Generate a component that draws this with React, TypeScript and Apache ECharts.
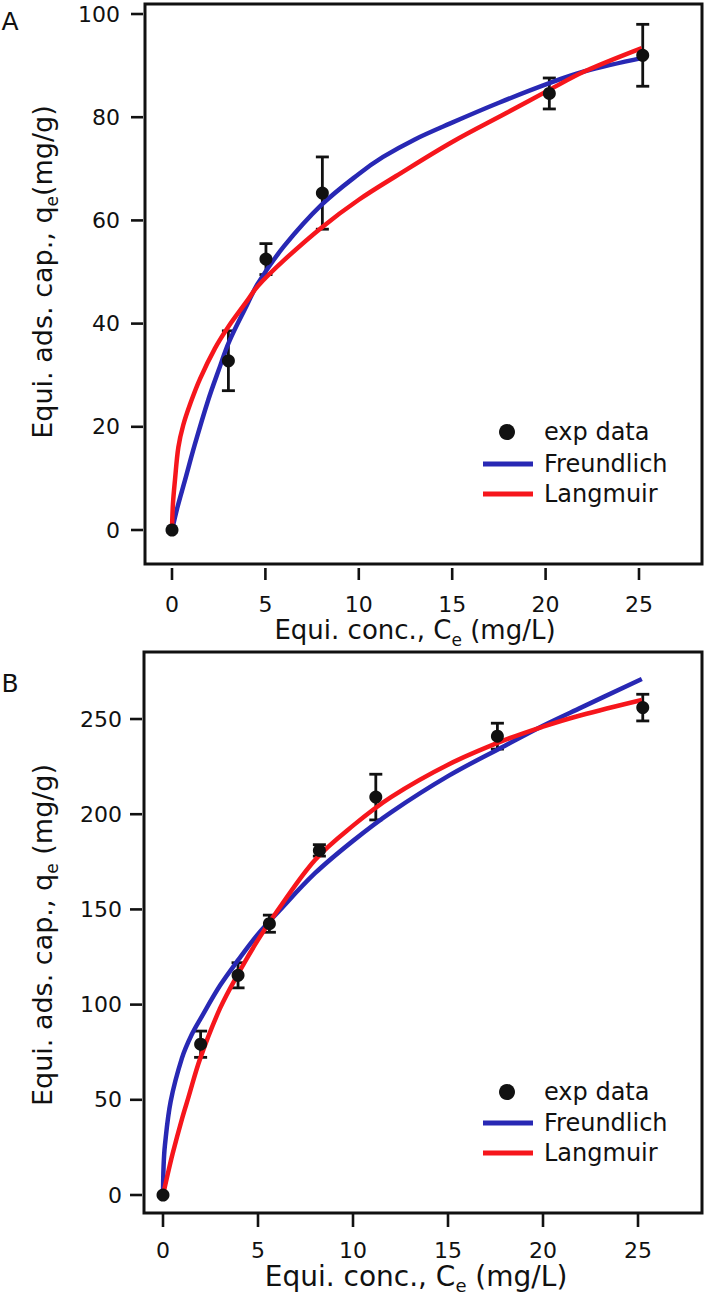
import React, { useEffect, useRef } from "react";
import * as echarts from "echarts";

// ---------- tick values ----------
const xTicksA = [0, 5, 10, 15, 20, 25];
const yTicksA = [0, 20, 40, 60, 80, 100];
const xTicksB = [0, 5, 10, 15, 20, 25];
const yTicksB = [0, 50, 100, 150, 200, 250];

// ---------- panel A data ----------
const expAx = [0, 3.02, 5.03, 8.05, 20.2, 25.2];
const expAy = [0, 32.8, 52.5, 65.3, 84.6, 92.0];
const expAerr = [0, 5.8, 3.0, 7.0, 3.0, 6.0];

const freundAx = [0, 0.3, 0.7, 1.2, 1.94, 2.5, 3.06, 4, 4.6, 6, 8, 10, 11.3, 13, 14.9, 17.5, 20.2, 22.1, 25.2];
const freundAy = [0, 4.5, 9.7, 16.3, 25.2, 31, 36.5, 43.5, 47.8, 55.0, 63.0, 69.0, 72.3, 75.7, 78.8, 82.8, 86.6, 88.9, 91.5];

const langAx = [0, 0.05, 0.16, 0.34, 0.6, 1, 1.5, 2.3, 3, 4, 4.6, 6, 8, 10, 12, 15, 18, 20.2, 22.1, 25.15];
const langAy = [0, 5, 9.7, 16, 20.3, 24.7, 29.3, 35.2, 39.3, 44.3, 47.3, 52.3, 58.6, 64, 68.6, 75.2, 81.0, 85.3, 88.9, 93.4];

// ---------- panel B data ----------
const expBx = [0, 1.98, 3.95, 5.6, 8.23, 11.2, 17.6, 25.25];
const expBy = [0, 79.2, 115.4, 142.5, 181, 209, 241, 256];
const expBerr = [0, 6.9, 6.6, 4.5, 3, 12, 6.8, 7];

const freundBx = [0, 0.03, 0.1, 0.4, 1, 1.5, 2, 3, 4, 5, 6, 8, 10, 12, 15, 18, 20, 22, 25.2];
const freundBy = [0, 15, 26, 49, 72, 84, 93, 110, 124, 137, 148, 169, 186, 201, 220, 236, 246.5, 256, 271];

const langBx = [0, 0.25, 0.5, 1, 1.33, 1.95, 3, 4, 5, 6, 8, 10, 12, 15, 18, 20, 22, 25.2];
const langBy = [0, 11, 21.5, 40, 51, 71.5, 98, 117, 134, 149, 176, 194, 209, 226, 239, 246, 252, 260];

const legendNames = ["exp data", "Freundlich", "Langmuir"];

const FONT = "DejaVu Sans";
const INK = "#111111";
const BLUE = "#2828b4";
const RED = "#f6161c";

const pairs = (xs: number[], ys: number[]) => xs.map((x, i) => [x, ys[i]]);
const triples = (xs: number[], ys: number[], es: number[]) => xs.map((x, i) => [x, ys[i], es[i]]);

const renderErr = (_params: any, api: any) => {
  const x = api.value(0);
  const y = api.value(1);
  const e = api.value(2);
  if (!e) return { type: "group", children: [] };
  const top = api.coord([x, y + e]);
  const bot = api.coord([x, y - e]);
  const w = 6.5;
  return {
    type: "group",
    children: [
      { type: "line", shape: { x1: top[0], y1: top[1], x2: bot[0], y2: bot[1] }, style: { stroke: INK, lineWidth: 2.8 } },
      { type: "line", shape: { x1: top[0] - w, y1: top[1], x2: top[0] + w, y2: top[1] }, style: { stroke: INK, lineWidth: 2.8 } },
      { type: "line", shape: { x1: bot[0] - w, y1: bot[1], x2: bot[0] + w, y2: bot[1] }, style: { stroke: INK, lineWidth: 2.8 } },
    ],
  };
};

// x axis: each label carries its outward tick mark above the number
const xAxisCfg = (grid: number, min: number, max: number, ticks: number[], offset: number, tickLen: number, numLine: number) => ({
  type: "value",
  gridIndex: grid,
  position: "bottom",
  min,
  max,
  offset,
  axisLine: { show: false, onZero: false },
  axisTick: { show: false },
  axisLabel: {
    show: true,
    customValues: ticks,
    margin: 0,
    formatter: (v: number) => `{t|}\n{v|${v}}`,
    rich: {
      t: { width: 2.6, height: tickLen, lineHeight: tickLen, backgroundColor: INK, verticalAlign: "middle" },
      v: { fontSize: 22, fontFamily: FONT, color: INK, lineHeight: numLine, verticalAlign: "middle" },
    },
  },
  splitLine: { show: false },
});

// y axis: each label carries its outward tick mark right of the number
const yAxisCfg = (grid: number, min: number, max: number, ticks: number[], offset: number, gap: number) => ({
  type: "value",
  gridIndex: grid,
  position: "left",
  min,
  max,
  offset,
  axisLine: { show: false, onZero: false },
  axisTick: { show: false },
  axisLabel: {
    show: true,
    customValues: ticks,
    margin: 0,
    formatter: (v: number) => `{v|${v}}{t|}`,
    rich: {
      v: { fontSize: 22, fontFamily: FONT, color: INK, padding: [0, gap, 0, 0], verticalAlign: "middle" },
      t: { width: 12, height: 2.6, backgroundColor: INK, verticalAlign: "middle" },
    },
  },
  splitLine: { show: false },
});

const richTitle = (size: number, sub: number) => ({
  a: { fontSize: size, fontFamily: FONT, fill: INK, lineHeight: 36 },
  s: { fontSize: sub, fontFamily: FONT, fill: INK, verticalAlign: "bottom" },
});

const legendGraphics = (cx: number, rowY: number[]) => [
  { type: "circle", shape: { cx: cx, cy: rowY[0], r: 8 }, style: { fill: INK } },
  { type: "line", shape: { x1: cx - 24, y1: rowY[1], x2: cx + 26, y2: rowY[1] }, style: { stroke: BLUE, lineWidth: 5 } },
  { type: "line", shape: { x1: cx - 24, y1: rowY[2], x2: cx + 26, y2: rowY[2] }, style: { stroke: RED, lineWidth: 5 } },
  ...legendNames.map((n, i) => ({
    type: "text",
    x: cx + 37,
    y: rowY[i],
    style: { text: n, fontSize: 24, fontFamily: FONT, fill: INK, align: "left", verticalAlign: "middle" },
  })),
];

const lineSeries = (name: string, xi: number, xs: number[], ys: number[], color: string) => ({
  type: "line",
  name,
  xAxisIndex: xi,
  yAxisIndex: xi,
  data: pairs(xs, ys),
  showSymbol: false,
  smooth: 0.35,
  lineStyle: { color, width: 4.5 },
  z: 3,
});

export default function App() {
  const ref = useRef<HTMLDivElement>(null);

  useEffect(() => {
    if (!ref.current) return;
    const chart = echarts.init(ref.current, null, { renderer: "svg" });

    const option: any = {
      animation: false,
      grid: [
        { left: 145, top: 4, width: 557, height: 560, show: true, borderColor: INK, borderWidth: 3, outerBoundsMode: "none" },
        { left: 144, top: 652, width: 558, height: 561, show: true, borderColor: INK, borderWidth: 3, outerBoundsMode: "none" },
      ],
      xAxis: [
        xAxisCfg(0, -1.445, 28.373, xTicksA, 4, 12, 48),
        xAxisCfg(1, -1.0, 28.368, xTicksB, 1, 13, 46),
      ],
      yAxis: [
        yAxisCfg(0, -6.589, 101.94, yTicksA, 2, 11),
        yAxisCfg(1, -9.45, 285.2, yTicksB, 2, 8),
      ],
      series: [
        { type: "custom", name: "errA", xAxisIndex: 0, yAxisIndex: 0, renderItem: renderErr, data: triples(expAx, expAy, expAerr), z: 2, silent: true },
        lineSeries("Freundlich", 0, freundAx, freundAy, BLUE),
        lineSeries("Langmuir", 0, langAx, langAy, RED),
        { type: "scatter", name: "exp data", xAxisIndex: 0, yAxisIndex: 0, data: pairs(expAx, expAy), symbol: "circle", symbolSize: 13, itemStyle: { color: INK, opacity: 1 }, z: 4 },

        { type: "custom", name: "errB", xAxisIndex: 1, yAxisIndex: 1, renderItem: renderErr, data: triples(expBx, expBy, expBerr), z: 2, silent: true },
        lineSeries("Freundlich", 1, freundBx, freundBy, BLUE),
        lineSeries("Langmuir", 1, langBx, langBy, RED),
        { type: "scatter", name: "exp data", xAxisIndex: 1, yAxisIndex: 1, data: pairs(expBx, expBy), symbol: "circle", symbolSize: 13, itemStyle: { color: INK, opacity: 1 }, z: 4 },
      ],
      graphic: [
        { type: "text", x: 10, y: 21, style: { text: "A", fontSize: 25, fontFamily: FONT, fill: INK, align: "center", verticalAlign: "middle" } },
        { type: "text", x: 10, y: 683, style: { text: "B", fontSize: 25, fontFamily: FONT, fill: INK, align: "center", verticalAlign: "middle" } },
        {
          type: "text", x: 415, y: 630,
          style: { text: "{a|Equi. conc., C}{s|e}{a| (mg/L)}", rich: richTitle(26, 17), align: "center", verticalAlign: "middle" },
        },
        {
          type: "text", x: 416, y: 1276,
          style: { text: "{a|Equi. conc., C}{s|e}{a| (mg/L)}", rich: richTitle(28, 18), align: "center", verticalAlign: "middle" },
        },
        {
          type: "text", x: 42, y: 272, rotation: Math.PI / 2,
          style: { text: "{a|Equi. ads. cap., q}{s|e}{a|(mg/g)}", rich: richTitle(27, 17), align: "center", verticalAlign: "middle" },
        },
        {
          type: "text", x: 42, y: 935, rotation: Math.PI / 2,
          style: { text: "{a|Equi. ads. cap., q}{s|e}{a| (mg/g)}", rich: richTitle(27, 17), align: "center", verticalAlign: "middle" },
        },
        ...legendGraphics(507, [432, 464, 494]),
        ...legendGraphics(507, [1092, 1123, 1153]),
      ],
    };

    chart.setOption(option);
    return () => chart.dispose();
  }, []);

  return <div ref={ref} style={{ position: "absolute", left: 0, top: 0, width: 708, height: 1303 }} />;
}
